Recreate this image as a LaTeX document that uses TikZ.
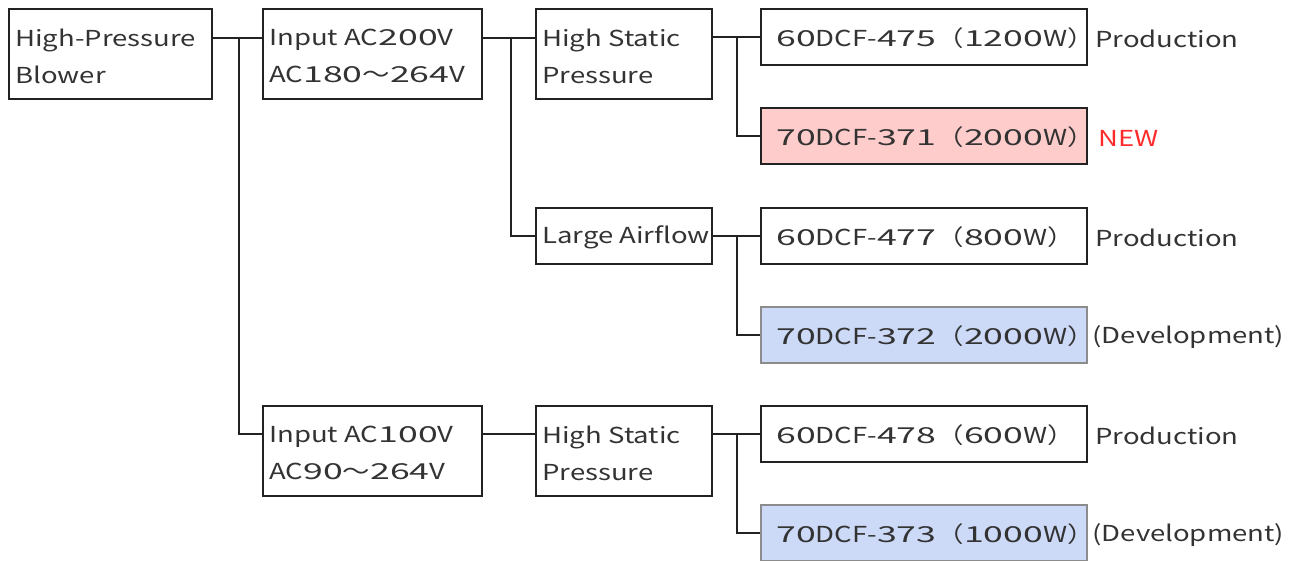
\documentclass[tikz,border=0pt]{standalone}
\usepackage{fontspec}
\setmainfont[FakeStretch=1.25]{Noto Sans CJK JP}
\newfontfamily\numfont[FakeStretch=1.62]{Noto Sans CJK JP}
\newcommand{\nm}[1]{{\numfont #1}}
\usetikzlibrary{calc}
\definecolor{pinkfill}{HTML}{FFCCCC}
\definecolor{bluefill}{HTML}{CCDAF8}
\definecolor{newred}{HTML}{FF2A2A}
\definecolor{edgec}{HTML}{222222}
\definecolor{txtc}{HTML}{333333}
\begin{document}
\begin{tikzpicture}[x=0.5pt,y=-0.5pt,
  box/.style={draw=edgec, line width=1pt, anchor=north west, inner sep=0pt},
  bigbox/.style={box, minimum height=45pt},
  smallbox/.style={box, minimum height=28pt},
  wA/.style={minimum width=101.5pt},
  wB/.style={minimum width=109.5pt},
  wC/.style={minimum width=88pt},
  wD/.style={minimum width=163pt},
  pinkbox/.style={fill=pinkfill},
  bluebox/.style={fill=bluefill, draw=black!45},
  txt/.style={anchor=west, inner sep=0pt, align=left, text=txtc, font=\fontsize{11}{18.5}\selectfont},
  lbl/.style={anchor=west, inner sep=0pt, text=txtc, font=\fontsize{11}{18.5}\selectfont},
  conn/.style={draw=edgec, line width=1pt}
]
\useasboundingbox (0,0) rectangle (1300,561);

% boxes
\node[bigbox,wA] (b1) at (8,8) {};
\node[bigbox,wB] (b2) at (262,8) {};
\node[bigbox,wC] (b3) at (535,8) {};
\node[smallbox,wD] (b4) at (760,8) {};
\node[smallbox,wD,pinkbox] (b5) at (760,107) {};
\node[smallbox,wC] (b6) at (535,207) {};
\node[smallbox,wD] (b7) at (760,207) {};
\node[smallbox,wD,bluebox] (b8) at (760,306) {};
\node[bigbox,wB] (b9) at (262,405) {};
\node[bigbox,wC] (b10) at (535,405) {};
\node[smallbox,wD] (b11) at (760,405) {};
\node[smallbox,wD,bluebox] (b12) at (760,504) {};

% texts
\node[txt] (t1) at ($(b1.west)+(7,2)$) {High-Pressure\\Blower};
\node[txt] (t2) at ($(b2.west)+(7,2)$) {Input AC\nm{200}V\\AC\nm{180}～\nm{264}V};
\node[txt] (t3) at ($(b3.west)+(7,2)$) {High Static\\Pressure};
\node[txt] (t4) at ($(b4.west)+(16,1)$) {\nm{60}DCF-\nm{475}（\nm{1200}W）};
\node[txt] (t5) at ($(b5.west)+(16,1)$) {\nm{70}DCF-\nm{371}（\nm{2000}W）};
\node[txt] (t6) at ($(b6.west)+(7,1)$) {Large Airflow};
\node[txt] (t7) at ($(b7.west)+(16,1)$) {\nm{60}DCF-\nm{477}（\nm{800}W）};
\node[txt] (t8) at ($(b8.west)+(16,1)$) {\nm{70}DCF-\nm{372}（\nm{2000}W）};
\node[txt] (t9) at ($(b9.west)+(7,2)$) {Input AC\nm{100}V\\AC\nm{90}～\nm{264}V};
\node[txt] (t10) at ($(b10.west)+(7,2)$) {High Static\\Pressure};
\node[txt] (t11) at ($(b11.west)+(16,1)$) {\nm{60}DCF-\nm{478}（\nm{600}W）};
\node[txt] (t12) at ($(b12.west)+(16,1)$) {\nm{70}DCF-\nm{373}（\nm{1000}W）};

% side labels
\node[lbl] (l4) at ($(b4.east)+(7,2)$) {Production};
\node[lbl,text=newred] (l5) at ($(b5.east)+(10,2)$) {NEW};
\node[lbl] (l7) at ($(b7.east)+(7,2)$) {Production};
\node[lbl] (l8) at ($(b8.east)+(4,2)$) {(Development)};
\node[lbl] (l11) at ($(b11.east)+(7,2)$) {Production};
\node[lbl] (l12) at ($(b12.east)+(4,2)$) {(Development)};

% junctions
\coordinate (j1) at ($(b1.north east)+(26,30)$);
\coordinate (j2) at ($(b2.north east)+(28,30)$);
\coordinate (j3) at ($(b3.north east)+(24,28)$);
\coordinate (j4) at ($(b6.east)+(24,0)$);
\coordinate (j5) at ($(b10.north east)+(24,28)$);

% connectors
\draw[conn] ($(b1.north east)+(0,30)$) -- ($(b2.north west)+(0,30)$);
\draw[conn] (j1) |- (b9.north west |- b11.west);
\draw[conn] ($(b2.north east)+(0,30)$) -- ($(b3.north west)+(0,30)$);
\draw[conn] (j2) |- (b6.west);
\draw[conn] (b3.east |- b4.west) -- (b4.west);
\draw[conn] (j3) |- (b5.west);
\draw[conn] (b6.east) -- (b7.west);
\draw[conn] (j4) |- (b8.west);
\draw[conn] (b9.east |- b11.west) -- (b10.west |- b11.west);
\draw[conn] (b10.east |- b11.west) -- (b11.west);
\draw[conn] (j5) |- (b12.west);
\end{tikzpicture}
\end{document}
